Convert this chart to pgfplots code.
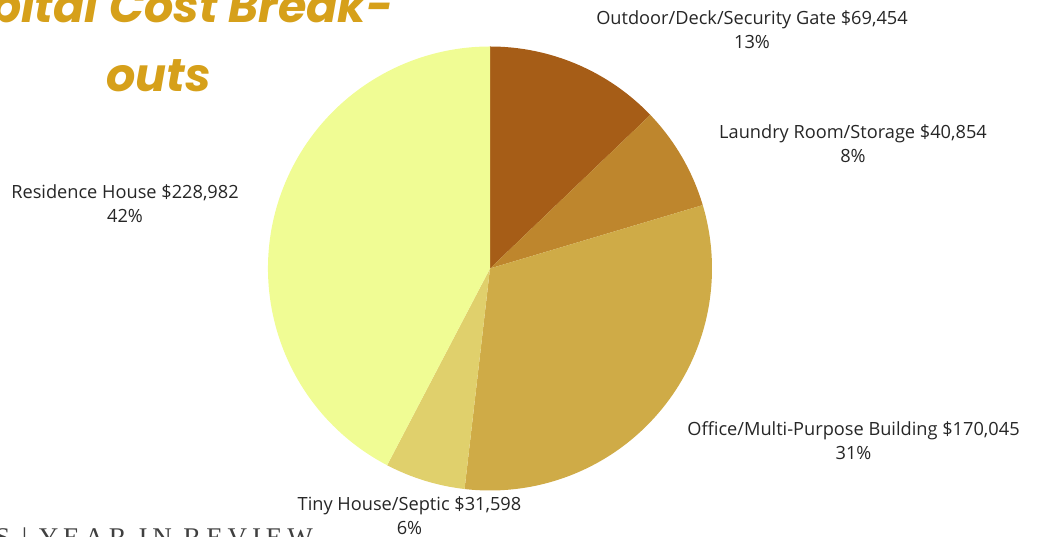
\documentclass[border=0pt]{standalone}
\usepackage{pgfplots}
\pgfplotsset{compat=1.18}
\usepackage{fontspec}
\setmainfont{Open Sans}
\newfontfamily\titlefont{Poppins}
\newfontfamily\capsfont{Liberation Serif}[LetterSpace=18]
\definecolor{cA}{HTML}{A65D17}
\definecolor{cB}{HTML}{BE862D}
\definecolor{cC}{HTML}{CFAB47}
\definecolor{cD}{HTML}{E0D06C}
\definecolor{cE}{HTML}{F0FC94}
\definecolor{txt}{HTML}{262626}
\definecolor{gold}{HTML}{D6A01A}
% slice values (USD)
\def\vA{69454}  % Outdoor/Deck/Security Gate
\def\vB{40854}  % Laundry Room/Storage
\def\vC{170045} % Office/Multi-Purpose Building
\def\vD{31598}  % Tiny House/Septic
\def\vE{228982} % Residence House
\edef\tot{\fpeval{\vA+\vB+\vC+\vD+\vE}}
\edef\aA{90}
\edef\aB{\fpeval{round(\aA-360*\vA/\tot,4)}}
\edef\aC{\fpeval{round(\aB-360*\vB/\tot,4)}}
\edef\aD{\fpeval{round(\aC-360*\vC/\tot,4)}}
\edef\aE{\fpeval{round(\aD-360*\vD/\tot,4)}}
\edef\aF{\fpeval{round(\aE-360*\vE/\tot,4)}}
\newcommand\lab[4]{%
  \node[anchor=base,text=txt,font=\fontsize{18.2}{22}\selectfont,inner sep=0pt] at (#1pt,{537pt-#2pt}) {#3};
  \node[anchor=base,text=txt,font=\fontsize{18.2}{22}\selectfont,inner sep=0pt] at (#1pt,{537pt-#2pt-24pt}) {#4};
}
\begin{document}
\begin{tikzpicture}
\useasboundingbox (0,0) rectangle (1038pt,537pt);
\clip (0,0) rectangle (1038pt,537pt);
\begin{axis}[at={(490pt,268.5pt)}, anchor=center, width=444pt, height=444pt,
  scale only axis, hide axis, xmin=-1, xmax=1, ymin=-1, ymax=1, clip=false]
\fill[cA] (axis cs:0,0) -- ++(\aA:222pt) arc[start angle=\aA, end angle=\aB, radius=222pt] -- cycle;
\fill[cB] (axis cs:0,0) -- ++(\aB:222pt) arc[start angle=\aB, end angle=\aC, radius=222pt] -- cycle;
\fill[cC] (axis cs:0,0) -- ++(\aC:222pt) arc[start angle=\aC, end angle=\aD, radius=222pt] -- cycle;
\fill[cD] (axis cs:0,0) -- ++(\aD:222pt) arc[start angle=\aD, end angle=\aE, radius=222pt] -- cycle;
\fill[cE] (axis cs:0,0) -- ++(\aE:222pt) arc[start angle=\aE, end angle=\aF, radius=222pt] -- cycle;
\end{axis}
\lab{752}{24.5}{Outdoor/Deck/Security Gate \$69,454}{13\%}
\lab{853}{138.5}{Laundry Room/Storage \$40,854}{8\%}
\lab{853.5}{435.5}{Office/Multi-Purpose Building \$170,045}{31\%}
\lab{409.5}{510.5}{Tiny House/Septic \$31,598}{6\%}
\lab{125}{198.5}{Residence House \$228,982}{42\%}
\node[anchor=base,text=gold,font=\titlefont\bfseries\itshape\fontsize{46}{50}\selectfont,inner sep=0pt] at (158.5pt,514pt) {Capital Cost Break-};
\node[anchor=base,text=gold,font=\titlefont\bfseries\itshape\fontsize{46}{50}\selectfont,inner sep=0pt] at (158.5pt,445pt) {outs};
\node[anchor=north east,text=black!75,font=\capsfont\fontsize{27}{30}\selectfont,inner sep=0pt] at (313pt,9pt) {PROJECTS | YEAR IN REVIEW};
\end{tikzpicture}
\end{document}
